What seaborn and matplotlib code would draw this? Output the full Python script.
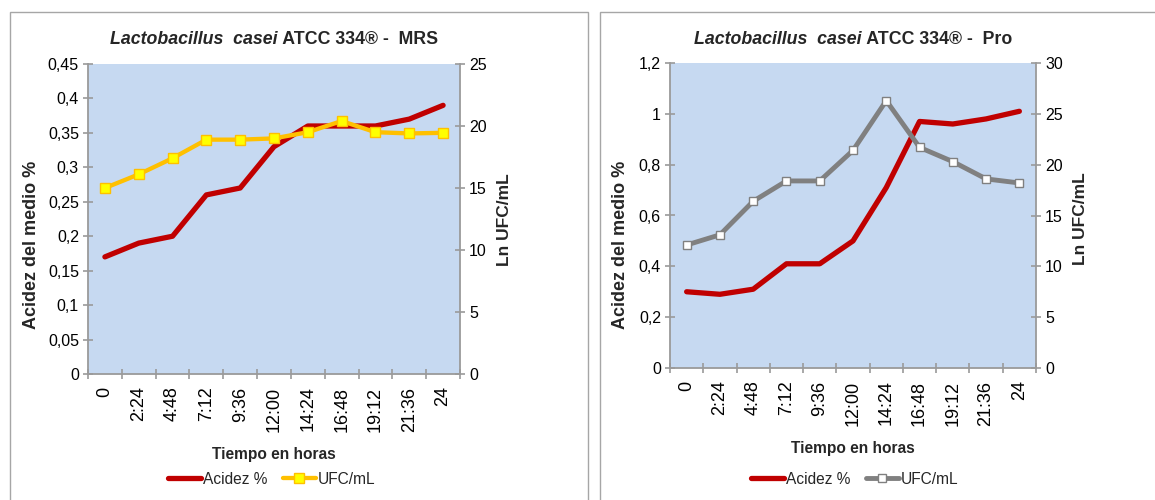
import numpy as np
import pandas as pd
import matplotlib
matplotlib.use("Agg")
import matplotlib.pyplot as plt
from matplotlib.patches import Rectangle
from matplotlib.lines import Line2D
from matplotlib.ticker import FuncFormatter, FixedLocator, MultipleLocator
import seaborn as sns

# Sampling times (hh:mm)
tiempos = ["0", "2:24", "4:48", "7:12", "9:36", "12:00", "14:24",
           "16:48", "19:12", "21:36", "24"]

# MRS medium
acidez_mrs = [0.17, 0.19, 0.20, 0.26, 0.27, 0.33, 0.36, 0.36, 0.36, 0.37, 0.39]
ufc_mrs = [15.0, 16.1, 17.4, 18.9, 18.9, 19.0, 19.5, 20.4, 19.5, 19.4, 19.45]

# Pro medium
acidez_pro = [0.30, 0.29, 0.31, 0.41, 0.41, 0.50, 0.71, 0.97, 0.96, 0.98, 1.01]
ufc_pro = [12.1, 13.1, 16.4, 18.4, 18.4, 21.4, 26.3, 21.7, 20.3, 18.6, 18.2]

sns.set_theme(style="white")
plt.rcParams["font.family"] = ["Liberation Sans", "DejaVu Sans"]

RED = "#C00000"
BG = "#C6D9F1"
AXC = "#9A9A9A"


def comma_fmt(v, pos):
    return ("%g" % round(v, 4)).replace(".", ",")


fig = plt.figure(figsize=(11.55, 5.0), dpi=100)

# Panel frames
for x0, x1 in [(10, 588), (600, 1170)]:
    fig.add_artist(Rectangle((x0 / 1155, -0.05), (x1 - x0) / 1155, 1.05 - 12 / 500,
                             transform=fig.transFigure, fill=False,
                             edgecolor="#A6A6A6", linewidth=1.0, zorder=0))

panels = [
    dict(rect=[88 / 1155, 1 - 374 / 500, 372 / 1155, 310 / 500],
         acid=acidez_mrs, ufc=ufc_mrs, ylim=(0, 0.45), ystep=0.05,
         y2lim=(0, 25), medium="MRS",
         line="#FFC000", mface="#FFFF00", medge="#FFC000", ms=6.5, lw2=3.1,
         ylab_x=-0.129, ylab_y=0.416, y2lab_x=1.099, y2lab_y=0.497,
         xlab_y=-0.236, leg_x=272 / 1155),
    dict(rect=[670 / 1155, 1 - 368 / 500, 366 / 1155, 305 / 500],
         acid=acidez_pro, ufc=ufc_pro, ylim=(0, 1.2), ystep=0.2,
         y2lim=(0, 30), medium="Pro",
         line="#808080", mface="#FFFFFF", medge="#808080", ms=5.8, lw2=3.5,
         ylab_x=-0.112, ylab_y=0.403, y2lab_x=1.101, y2lab_y=0.49,
         xlab_y=-0.24, leg_x=855 / 1155),
]

for p in panels:
    ax = fig.add_axes(p["rect"])
    ax.set_facecolor(BG)
    df = pd.DataFrame({"pos": np.arange(len(tiempos)), "acidez": p["acid"], "ufc": p["ufc"]})

    sns.lineplot(data=df, x="pos", y="acidez", ax=ax, color=RED, linewidth=3.8,
                 solid_capstyle="round", solid_joinstyle="round", sort=False)
    ax2 = ax.twinx()
    sns.lineplot(data=df, x="pos", y="ufc", ax=ax2, color=p["line"], linewidth=p["lw2"],
                 marker="s", markersize=p["ms"], markerfacecolor=p["mface"],
                 markeredgecolor=p["medge"], markeredgewidth=1.0,
                 solid_joinstyle="round", sort=False)

    n = len(tiempos)
    for a in (ax, ax2):
        a.set_xlim(-0.5, n - 0.5)
        for s in a.spines.values():
            s.set_visible(False)
    ax.set_ylim(*p["ylim"])
    ax2.set_ylim(*p["y2lim"])
    ax.yaxis.set_major_locator(MultipleLocator(p["ystep"]))
    ax2.yaxis.set_major_locator(MultipleLocator(5))
    ax.yaxis.set_major_formatter(FuncFormatter(comma_fmt))
    ax2.yaxis.set_major_formatter(FuncFormatter(comma_fmt))

    ax.spines["left"].set_visible(True)
    ax.spines["bottom"].set_visible(True)
    ax2.spines["right"].set_visible(True)
    for s in (ax.spines["left"], ax.spines["bottom"], ax2.spines["right"]):
        s.set_color(AXC)
        s.set_linewidth(1.3)

    # Category boundaries carry tick marks; labels sit at category centres
    ax.xaxis.set_major_locator(FixedLocator(np.arange(-0.5, n, 1.0)))
    ax.xaxis.set_major_formatter(FuncFormatter(lambda v, pos: ""))
    ax.set_xticks(np.arange(n), tiempos, minor=True, rotation=90)
    ax.tick_params(axis="x", which="major", direction="inout", length=7, width=1.2,
                   color=AXC, bottom=True)
    ax.tick_params(axis="x", which="minor", length=0, pad=9, labelsize=13,
                   labelcolor="black")
    ax.tick_params(axis="y", direction="inout", length=7, width=1.2, color=AXC,
                   left=True, labelsize=11.5, labelcolor="black", pad=3)
    ax2.tick_params(axis="y", direction="inout", length=7, width=1.2, color=AXC,
                    right=True, labelsize=11.5, labelcolor="black", pad=3)
    ax.grid(False)
    ax2.grid(False)

    ax.set_xlabel("Tiempo en horas", fontsize=11.2, fontweight="bold")
    ax.xaxis.set_label_coords(0.5, p["xlab_y"])
    ax.set_ylabel("Acidez del medio %", fontsize=13, fontweight="bold")
    ax.yaxis.set_label_coords(p["ylab_x"], p["ylab_y"])
    ax2.set_ylabel("Ln UFC/mL", fontsize=12.5, fontweight="bold")
    ax2.yaxis.set_label_coords(p["y2lab_x"], p["y2lab_y"])

    # Title: italic species name followed by upright strain / medium
    cx = p["rect"][0] + p["rect"][2] / 2
    ty = 1 - 40 / 500
    t1 = fig.text(0, ty, "Lactobacillus  casei", fontsize=12.8, fontweight="bold",
                  fontstyle="italic", va="center", ha="left")
    t2 = fig.text(0, ty, " ATCC 334\u00ae -  " + p["medium"], fontsize=12.8,
                  fontweight="bold", va="center", ha="left")
    r = fig.canvas.get_renderer()
    w1 = t1.get_window_extent(r).width / fig.bbox.width
    w2 = t2.get_window_extent(r).width / fig.bbox.width
    start = cx - (w1 + w2) / 2
    t1.set_x(start)
    t2.set_x(start + w1)

    handles = [
        Line2D([], [], color=RED, linewidth=3.8, solid_capstyle="round"),
        Line2D([], [], color=p["line"], linewidth=p["lw2"], marker="s",
               markersize=p["ms"], markerfacecolor=p["mface"],
               markeredgecolor=p["medge"], solid_capstyle="round"),
    ]
    ax.legend(handles, ["Acidez %", "UFC/mL"], loc="center",
              bbox_to_anchor=(p["leg_x"], 0.042), bbox_transform=fig.transFigure,
              ncol=2, frameon=False, fontsize=11.2, handlelength=2.1,
              handletextpad=0.15, columnspacing=1.0)

fig.savefig("out.png", dpi=100)
